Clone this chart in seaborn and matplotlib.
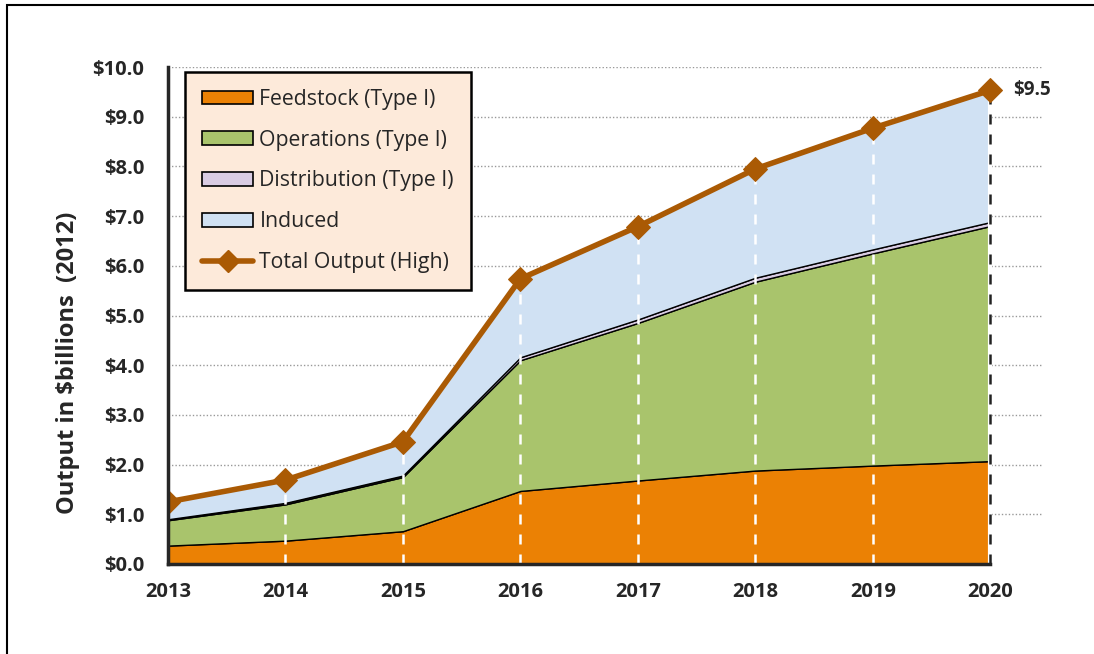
import numpy as np
import pandas as pd
import matplotlib.pyplot as plt
import matplotlib.patches as mpatches
from matplotlib.lines import Line2D
from matplotlib.ticker import FuncFormatter
import seaborn as sns

# Data ($ billions, 2012)
years = [2013, 2014, 2015, 2016, 2017, 2018, 2019, 2020]
feedstock = [0.37, 0.47, 0.66, 1.47, 1.68, 1.88, 1.98, 2.07]
operations = [0.51, 0.73, 1.09, 2.63, 3.17, 3.80, 4.27, 4.73]
distribution = [0.02, 0.03, 0.03, 0.06, 0.07, 0.08, 0.08, 0.08]
total_high = [1.25, 1.69, 2.46, 5.74, 6.79, 7.95, 8.77, 9.53]
induced = [t - f - o - d for t, f, o, d in zip(total_high, feedstock, operations, distribution)]

series_names = ['Feedstock (Type I)', 'Operations (Type I)', 'Distribution (Type I)', 'Induced']
series_colors = ['#EB8104', '#A9C46C', '#D9CCE3', '#D0E1F3']
line_color = '#AA5A04'

df = pd.DataFrame({'Year': years, 'Total': total_high})

sns.set_style('white')
plt.rcParams['font.family'] = ['Open Sans', 'DejaVu Sans']

fig = plt.figure(figsize=(10.94, 6.54), dpi=100)
ax = fig.add_axes([168 / 1094, 90 / 654, (1042 - 168) / 1094, 497 / 654])

# outer frame of the chart area
fig.patches.append(mpatches.Rectangle((7 / 1094, -0.05), 1.2, 1 - 5 / 654 + 0.05,
                                      transform=fig.transFigure, fill=False,
                                      edgecolor='black', lw=1.5))

# gridlines
for v in range(1, 11):
    ax.axhline(v, color='#999999', lw=1, ls=(0, (1, 1.5)), zorder=0)

# stacked areas
ax.stackplot(years, feedstock, operations, distribution, induced,
             colors=series_colors, edgecolor='black', linewidth=1.0, zorder=1)

# drop lines
ax.vlines(years[1:-1], 0, total_high[1:-1], colors='white', lw=1.8,
          linestyles=(0, (4, 4)), zorder=2)
ax.vlines(years[-1], 0, total_high[-1], colors='white', lw=3, zorder=2)
ax.vlines(years[-1], 0, total_high[-1], colors='#222222', lw=1.8,
          linestyles=(0, (4, 4)), zorder=2)

# total output line
sns.lineplot(data=df, x='Year', y='Total', ax=ax, color=line_color, lw=4,
             marker='D', markersize=12, markeredgecolor=line_color, zorder=4)

ax.text(years[-1] + 0.19, total_high[-1], '\\$' + f'{total_high[-1]:.1f}',
        fontsize=13.5, fontweight='bold', va='center', ha='left')

ax.set_xlim(2013, 2020.44)
ax.set_ylim(0, 10)
ax.set_xticks(years)
ax.set_yticks(np.arange(0, 11, 1))
ax.yaxis.set_major_formatter(FuncFormatter(lambda v, p: '\\$' + f'{v:.1f}'))
ax.tick_params(axis='both', labelsize=14.5, length=6, width=2, direction='out',
               color='black')
ax.tick_params(axis='y', pad=11)
ax.tick_params(axis='x', pad=7)
for lab in ax.get_xticklabels() + ax.get_yticklabels():
    lab.set_fontweight('bold')

ax.spines['top'].set_visible(False)
ax.spines['right'].set_visible(False)
ax.spines['left'].set_linewidth(2.5)
ax.spines['bottom'].set_linewidth(2.5)
ax.spines['bottom'].set_bounds(2013, 2020)
ax.spines['left'].set_zorder(5)
ax.spines['bottom'].set_zorder(5)

ax.set_xlabel('')
ax.set_ylabel('Output in \\$billions  (2012)', fontsize=17, fontweight='bold')
ax.yaxis.set_label_coords(-0.101, 0.404)

handles = [mpatches.Patch(facecolor=c, edgecolor='black', lw=1.2) for c in series_colors]
handles.append(Line2D([], [], color=line_color, lw=4, marker='D', markersize=11))
leg = ax.legend(handles, series_names + ['Total Output (High)'], loc='upper left',
                bbox_to_anchor=(0.0195, 0.99), borderaxespad=0, fontsize=15.3,
                handlelength=2.4, handleheight=0.6, labelspacing=0.93,
                handletextpad=0.3, borderpad=0.8, fancybox=False, framealpha=1,
                facecolor='#FDEADA', edgecolor='black')
leg.get_frame().set_linewidth(1.8)
leg.set_zorder(6)

fig.savefig('out.png', dpi=100)
